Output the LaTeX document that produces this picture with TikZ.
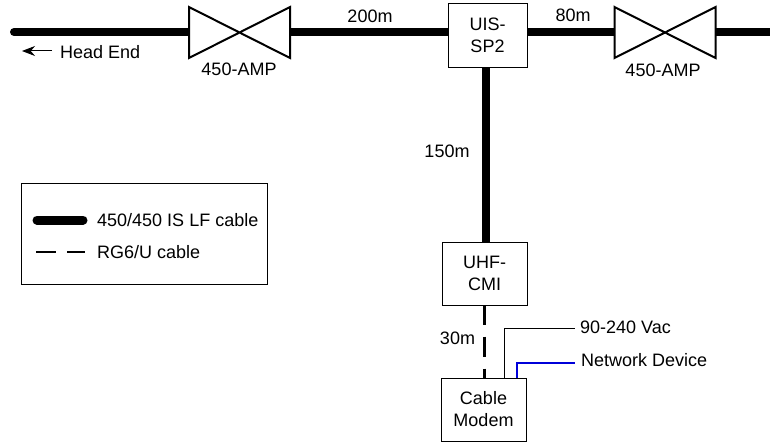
\documentclass[tikz,border=0pt]{standalone}
\usepackage{fontspec}
\setmainfont{Liberation Sans}
\usetikzlibrary{arrows.meta,calc}
\tikzset{
  boxnode/.style={draw=black,line width=1pt,fill=white,align=center,inner sep=0pt,font=\lbl},
  valvenode/.style={minimum width=101pt,minimum height=51pt,inner sep=0pt,outer sep=0pt},
  valveline/.style={draw=black,fill=white,line width=2pt,line join=miter},
  txt/.style={inner sep=0pt,font=\lbl},
  lefttxt/.style={txt,anchor=west},
  thick cable/.style={line width=8pt,black},
  thin cable/.style={line width=3pt,black,dash pattern=on 19pt off 12pt on 20pt off 12pt on 9pt off 20pt},
}
\newcommand{\lbl}{\fontsize{18}{22}\selectfont}
\begin{document}
\begin{tikzpicture}[x=1pt,y=-1pt]
\useasboundingbox (0,0) rectangle (770,444);
\fill[white] (0,0) rectangle (770,444);
% nodes
\coordinate (headstart) at (14,32);
\coordinate (rightend) at (770,32);
\node[valvenode] (v1) at (239.5,32.5) {};
\node[valvenode] (v2) at (665,32.5) {};
\node[boxnode,minimum width=79pt,minimum height=63pt] (sp) at (487.5,35.5) {UIS-\\SP2};
\node[boxnode,minimum width=85pt,minimum height=63pt] (cmi) at (484.5,273.5) {UHF-\\CMI};
\node[boxnode,minimum width=85pt,minimum height=63pt] (modem) at (483.5,409.5) {Cable\\Modem};
% thick cables
\draw[thick cable,line cap=round] (headstart) -- (v1.west |- headstart);
\draw[thick cable] (v1.east |- headstart) -- (sp.west |- headstart);
\draw[thick cable] (sp.east |- headstart) -- (v2.west |- headstart);
\draw[thick cable] (v2.east |- headstart) -- (rightend);
\draw[thick cable] ($(sp.south)+(-1.5,0)$) -- ($(cmi.north)+(1.5,0)$);
% valves
\draw[valveline] (v1.south west) -- (v1.north east) -- (v1.south east) -- (v1.north west) -- cycle;
\draw[valveline] (v2.south west) -- (v2.north east) -- (v2.south east) -- (v2.north west) -- cycle;
% dashed cable
\draw[thin cable] (cmi.south) -- (cmi.south |- modem.north);
% power and network
\coordinate (power) at (575,328);
\coordinate (net) at (575,363);
\draw[line width=1pt,black] ($(modem.north)+(20.5,0)$) |- (power);
\draw[line width=2.5pt,blue!85!black] ($(modem.north)+(33.5,0)$) |- (net);
% head end arrow
\coordinate (a1) at (52,51);
\coordinate (a2) at (22,51);
\draw[line width=1pt,-{Stealth[length=13pt,width=10pt]}] (a1) -- (a2);
% labels
\node[lefttxt] (he) at (60,52) {Head End};
\node[txt] (l1) at (239,69) {450-AMP};
\node[txt] (l2) at (663,70) {450-AMP};
\node[txt] (d1) at (370,16) {200m};
\node[txt] (d2) at (573,15) {80m};
\node[txt] (d3) at (447,151) {150m};
\node[txt] (d4) at (457.5,338) {30m};
\node[lefttxt] (p) at (580,327) {90-240 Vac};
\node[lefttxt] (n) at (581,360) {Network Device};
% legend
\node[draw=black,line width=1pt,minimum width=246pt,minimum height=101pt,inner sep=0pt] (legend) at (144,233.5) {};
\coordinate (k1a) at (37,220);
\coordinate (k1b) at (83,220);
\coordinate (k2a) at (36,252);
\coordinate (k2b) at (85,252);
\draw[line width=9pt,line cap=round] (k1a) -- (k1b);
\draw[line width=2pt,dash pattern=on 20pt off 11pt on 18pt off 20pt] (k2a) -- (k2b);
\node[lefttxt] (t1) at (97,220.5) {450/450 IS LF cable};
\node[lefttxt] (t2) at (97,252) {RG6/U cable};
\end{tikzpicture}
\end{document}
